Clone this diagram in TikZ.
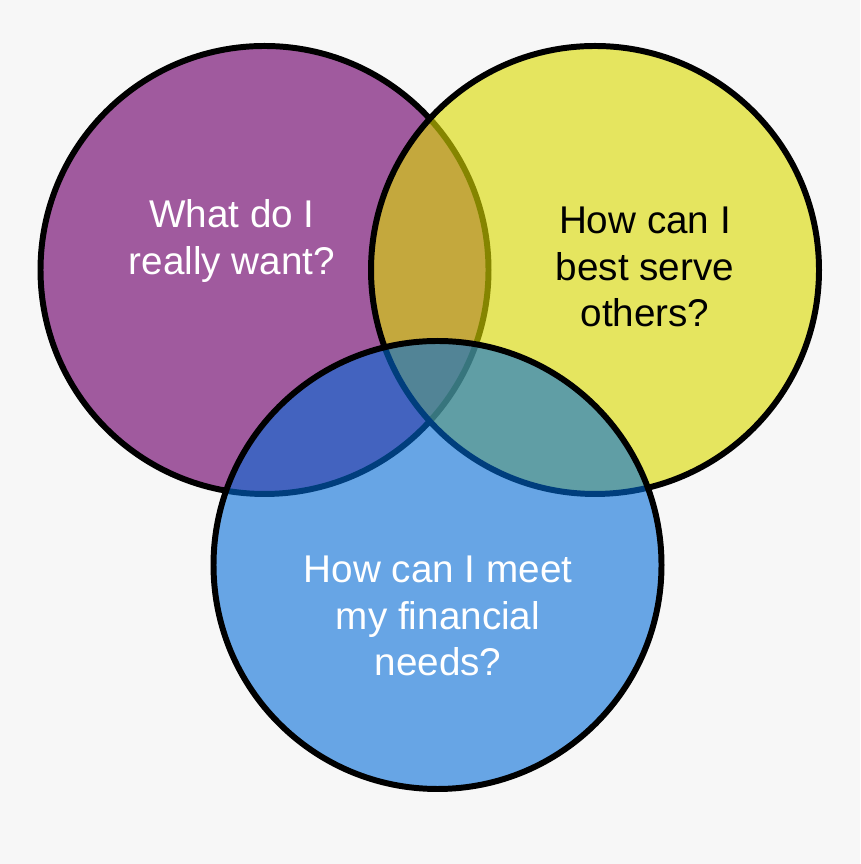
\documentclass[tikz,border=0pt]{standalone}
\usepackage{fontspec}
\setmainfont{Liberation Sans}
\usepackage{xcolor}
\usetikzlibrary{positioning}
\definecolor{bggray}{RGB}{247,247,247}
\definecolor{wantpurple}{RGB}{160,90,158}
\definecolor{serveyellow}{RGB}{219,219,0}
\definecolor{needblue}{RGB}{0,107,216}

\begin{document}
\begin{tikzpicture}[
    font=\fontsize{11}{13.3}\selectfont,
    ring/.style={circle, draw=black, line width=1.7pt, minimum size=4.48cm,
      inner sep=0pt},
    question/.style={align=center, inner sep=0pt}
  ]
    \fill[bggray] (0,0) rectangle (8.6,8.64);
    \useasboundingbox (0,0) rectangle (8.6,8.64);

    \node[ring, fill=wantpurple] (want) at (2.645,5.94) {};
    \node[ring, fill=serveyellow, fill opacity=0.61] (serve) at (5.95,5.94) {};
    \node[ring, fill=needblue, fill opacity=0.58] (need) at (4.375,2.99) {};

    \node[question, text=white] (wanttext) at (2.32,6.23)
      {What do I\\really want?};
    \node[question, text=black] (servetext) at (6.45,5.97)
      {How can I\\best serve\\others?};
    \node[question, text=white] (needtext) at (4.38,2.48)
      {How can I meet\\my financial\\needs?};
  \end{tikzpicture}
\end{document}
